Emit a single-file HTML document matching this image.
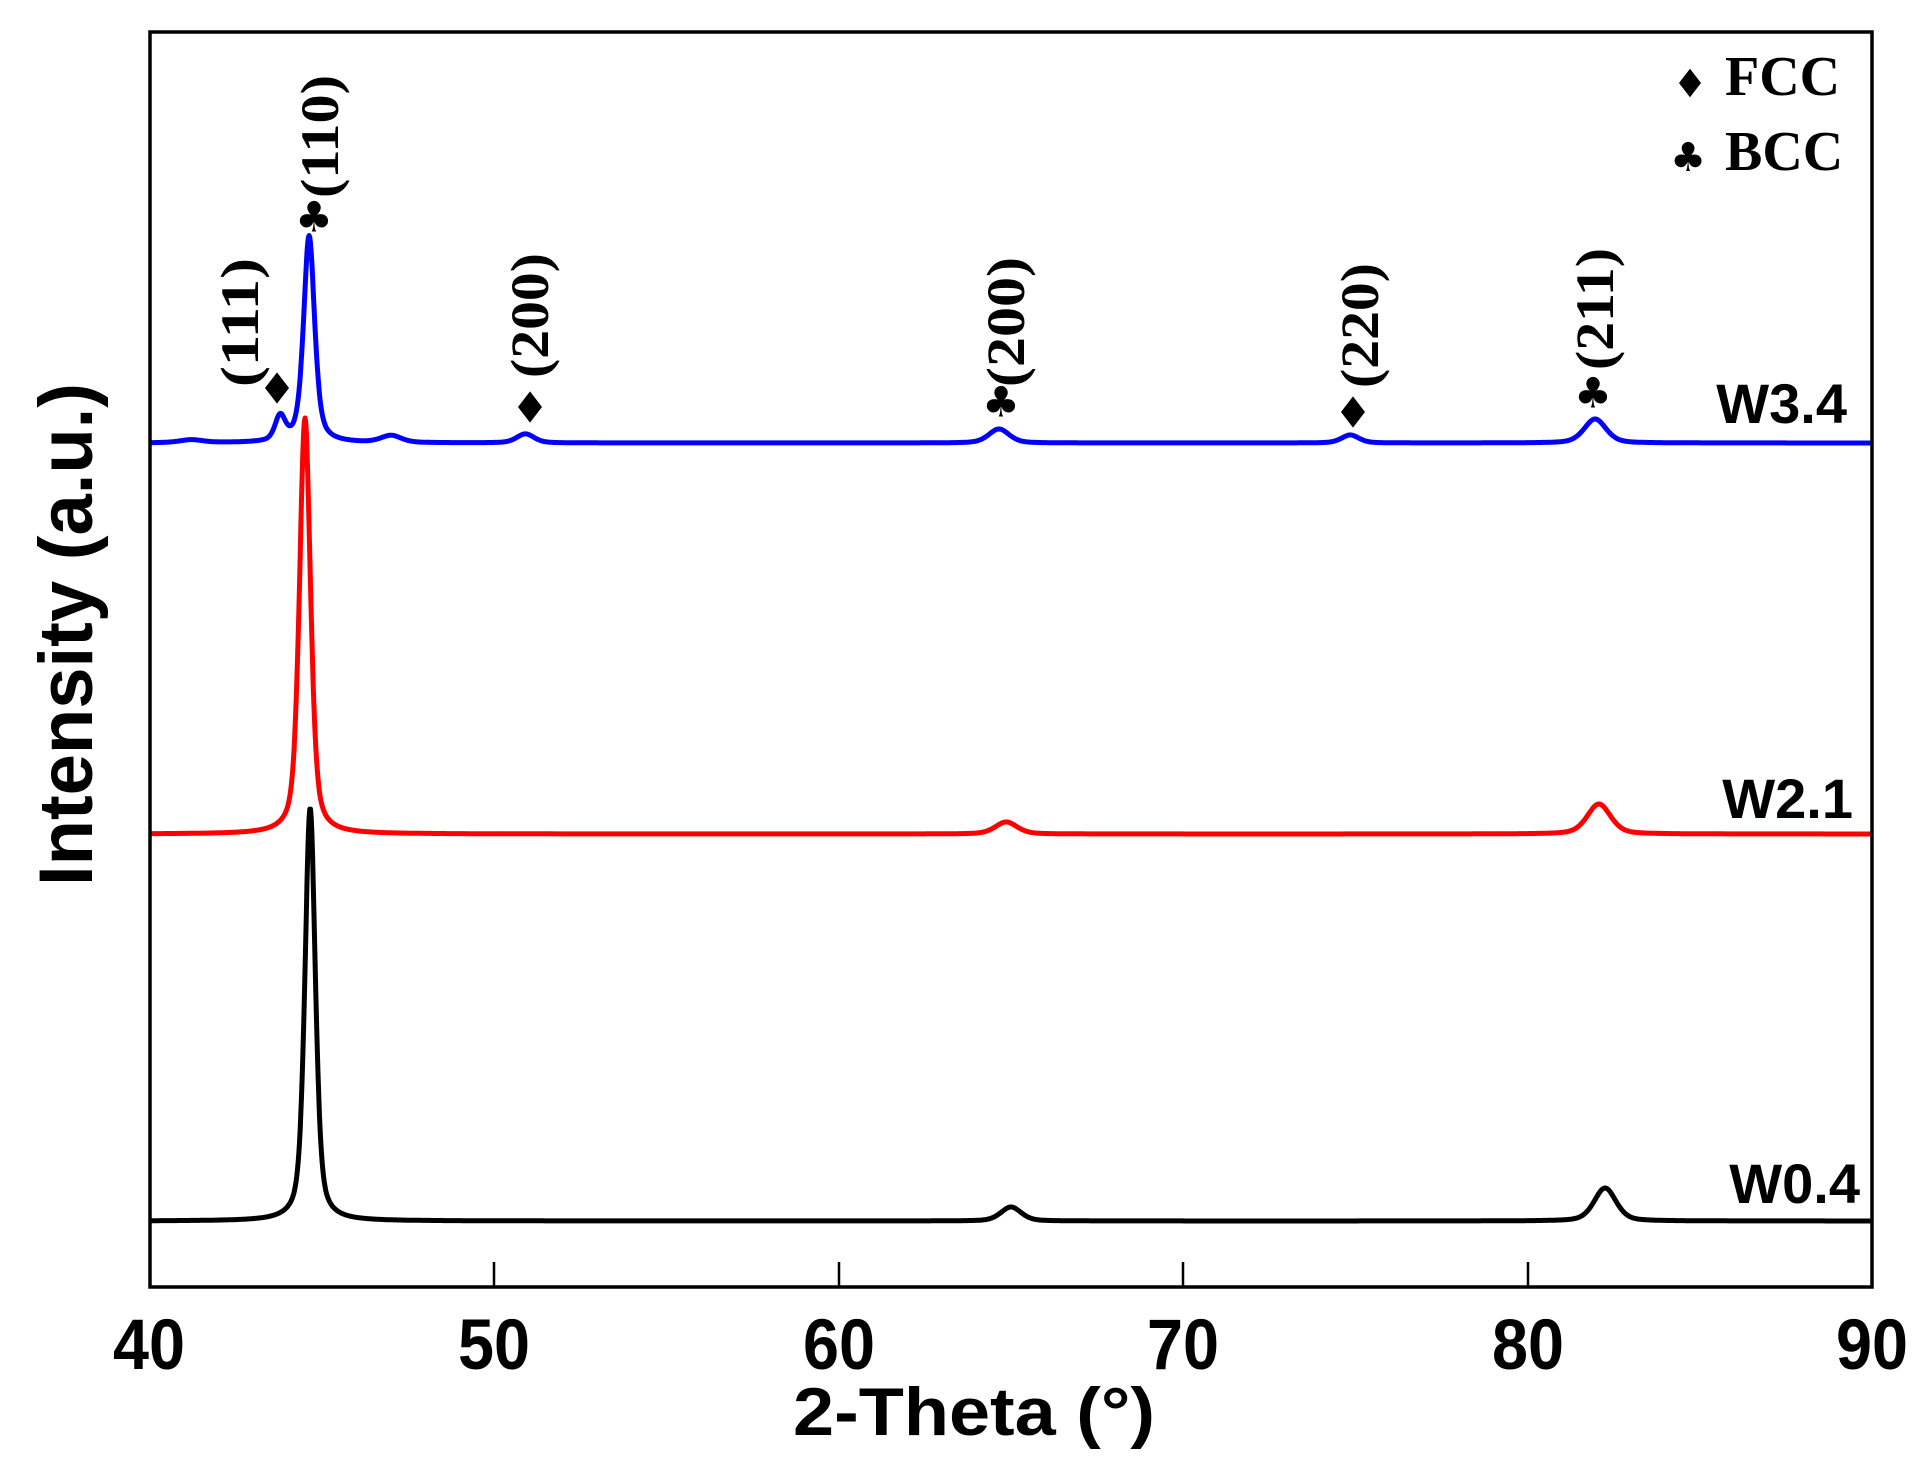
<!DOCTYPE html>
<html><head><meta charset="utf-8"><style>
html,body{margin:0;padding:0;background:#fff;}
svg{display:block;}
.tb{font-family:"Liberation Serif",serif;font-weight:bold;}
.ab{font-family:"Liberation Sans",sans-serif;font-weight:bold;}
</style></head><body>
<svg id="s" width="1927" height="1469" viewBox="0 0 1927 1469" xmlns="http://www.w3.org/2000/svg">
<rect x="0" y="0" width="1927" height="1469" fill="#fff"/>
<g id="curves"></g>
<rect x="150" y="32" width="1722" height="1255" fill="none" stroke="#000" stroke-width="3.5"/>
<g stroke="#000" stroke-width="2.5">
<line x1="494" y1="1287" x2="494" y2="1262"/>
<line x1="839" y1="1287" x2="839" y2="1262"/>
<line x1="1183" y1="1287" x2="1183" y2="1262"/>
<line x1="1528" y1="1287" x2="1528" y2="1262"/>
</g>
<g class="ab" font-size="71" text-anchor="middle">
<text x="149" y="1369" textLength="72" lengthAdjust="spacingAndGlyphs">40</text>
<text x="494" y="1369" textLength="72" lengthAdjust="spacingAndGlyphs">50</text>
<text x="839" y="1369" textLength="72" lengthAdjust="spacingAndGlyphs">60</text>
<text x="1183" y="1369" textLength="72" lengthAdjust="spacingAndGlyphs">70</text>
<text x="1528" y="1369" textLength="72" lengthAdjust="spacingAndGlyphs">80</text>
<text x="1872" y="1369" textLength="72" lengthAdjust="spacingAndGlyphs">90</text>
</g>
<text class="ab" font-size="68" x="974" y="1435" text-anchor="middle" textLength="362" lengthAdjust="spacingAndGlyphs">2-Theta (°)</text>
<text class="ab" font-size="76" transform="translate(92,886) rotate(-90)" textLength="503" lengthAdjust="spacingAndGlyphs">Intensity (a.u.)</text>
<g class="ab" font-size="56" text-anchor="end">
<text x="1847" y="423">W3.4</text>
<text x="1853" y="818">W2.1</text>
<text x="1860" y="1203">W0.4</text>
</g>
<g class="tb" font-size="56">
<text x="1725" y="95">FCC</text>
<text x="1725" y="170">BCC</text>
</g>
<g id="marks"></g>
<g class="tb" font-size="54">
<text transform="translate(258,387) rotate(-90)" textLength="129" lengthAdjust="spacingAndGlyphs">(111)</text>
<text transform="translate(338,198) rotate(-90)" textLength="123" lengthAdjust="spacingAndGlyphs">(110)</text>
<text transform="translate(548,378) rotate(-90)" textLength="125" lengthAdjust="spacingAndGlyphs">(200)</text>
<text transform="translate(1024,387) rotate(-90)" textLength="130" lengthAdjust="spacingAndGlyphs">(200)</text>
<text transform="translate(1378,388) rotate(-90)" textLength="125" lengthAdjust="spacingAndGlyphs">(220)</text>
<text transform="translate(1613,370) rotate(-90)" textLength="122" lengthAdjust="spacingAndGlyphs">(211)</text>
</g>
</svg>
<script>
var NS="http://www.w3.org/2000/svg";
function X(t){return 150+(t-40)*34.44;}
function pv(t,c,w,eta){var d=(t-c)/(w/2);var L=1/(1+d*d);var G=Math.exp(-Math.LN2*d*d);return eta*L+(1-eta)*G;}
function path(base,peaks,col){
 var d="";
 for(var t=40;t<=90.0001;t+=0.02){
  var y=0;
  for(var i=0;i<peaks.length;i++){var p=peaks[i];y+=p[1]*pv(t,p[0],p[2],p[3]);}
  d+=(d?"L":"M")+X(t).toFixed(1)+","+(base-y).toFixed(1);
 }
 var e=document.createElementNS(NS,"path");
 e.setAttribute("d",d);e.setAttribute("fill","none");e.setAttribute("stroke",col);
 e.setAttribute("stroke-width","5");e.setAttribute("stroke-linejoin","round");
 document.getElementById("curves").appendChild(e);
}
path(443,[[41.2,3,0.8,0.5],[43.78,24,0.35,0.4],[44.62,207,0.38,0.55],[47.0,7,0.7,0.4],[50.9,9,0.6,0.4],[64.65,14,0.7,0.4],[74.85,8,0.6,0.4],[81.96,24,0.75,0.4]],"#0000ff");
path(834,[[44.5,416,0.38,0.5],[64.86,12,0.75,0.4],[82.07,30,0.8,0.4]],"#ff0000");
path(1221,[[44.65,413,0.36,0.5],[65.0,14,0.7,0.4],[82.25,33,0.75,0.4]],"#000000");
function dia(x,y,s){var e=document.createElementNS(NS,"polygon");
 e.setAttribute("points",(x)+","+(y-s*1.3)+" "+(x+s)+","+y+" "+x+","+(y+s*1.3)+" "+(x-s)+","+y);
 document.getElementById("marks").appendChild(e);}
function club(x,y,s){var g=document.getElementById("marks");
 var t=document.createElementNS(NS,"text");t.setAttribute("x",x);t.setAttribute("y",y);
 t.setAttribute("font-size",s);t.setAttribute("text-anchor","middle");t.setAttribute("dominant-baseline","central");
 t.setAttribute("font-family","DejaVu Sans, sans-serif");t.textContent="\u2663";g.appendChild(t);}
dia(277,388,12);dia(530,407,12);dia(1353,412,12);dia(1690,83,11);
club(314,217,42);club(1001,402,42);club(1593,393,42);club(1688,158,40);
</script>
</body></html>
